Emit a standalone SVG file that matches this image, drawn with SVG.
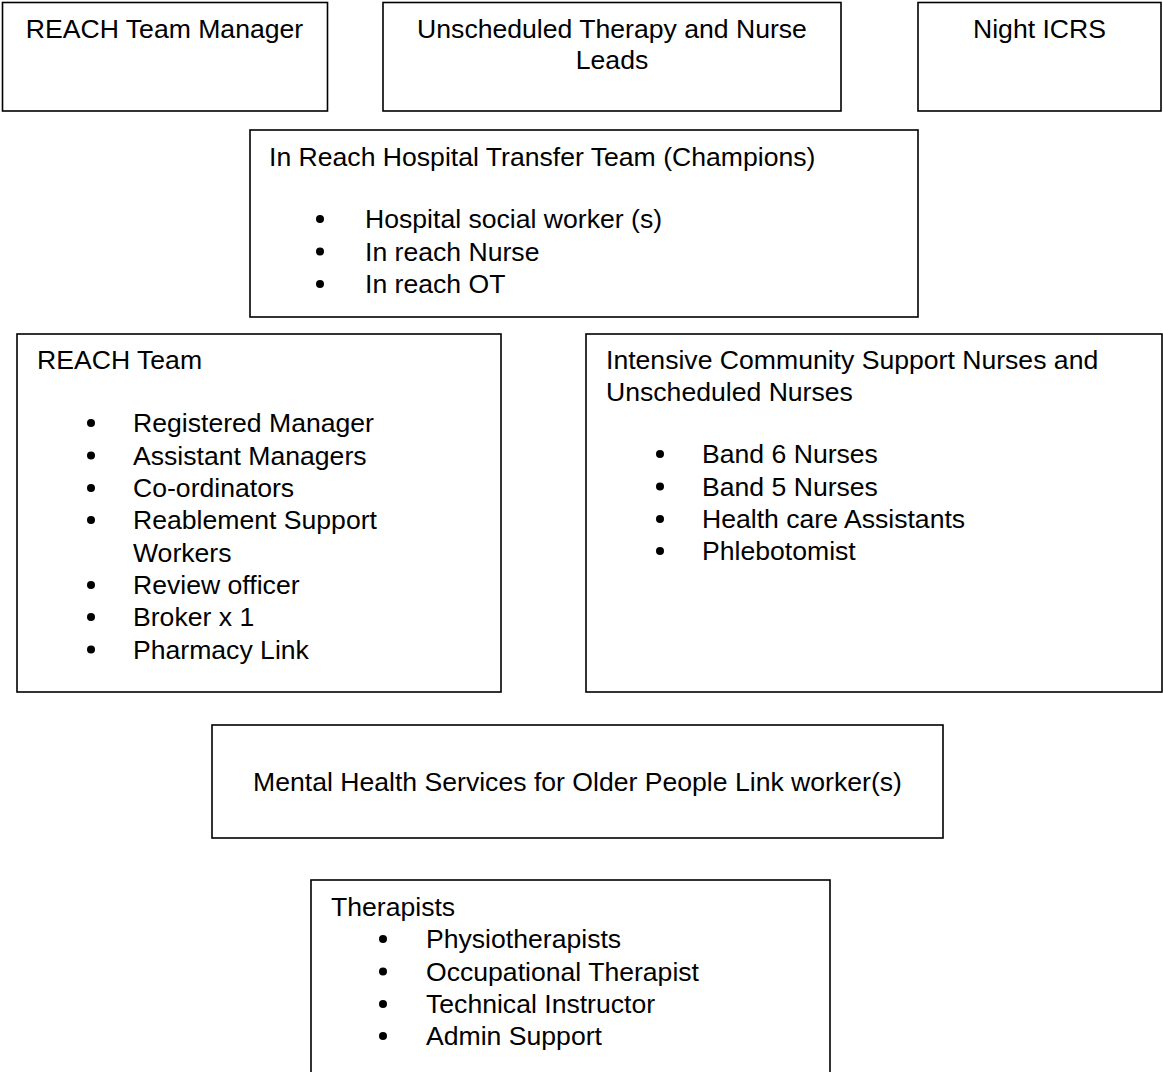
<svg xmlns="http://www.w3.org/2000/svg" width="1163" height="1072" viewBox="0 0 1163 1072">
<style>
.box{fill:#fff;stroke:#000;stroke-width:1.6}
.t{font-family:"Liberation Sans",Arial,sans-serif;font-size:26.6px;fill:#000}
.c{text-anchor:middle}
.b{fill:#000}
</style>
<rect width="1163" height="1072" fill="#fff"/>
<g id="reach-team-manager">
<rect class="box" x="2.5" y="2.5" width="325" height="108.5"/>
<text class="t c" x="164.5" y="37.5">REACH Team Manager</text>
</g>
<g id="unscheduled-leads">
<rect class="box" x="383" y="2.5" width="458" height="108.5"/>
<text class="t c" x="612" y="37.5">Unscheduled Therapy and Nurse</text>
<text class="t c" x="612" y="68.5">Leads</text>
</g>
<g id="night-icrs">
<rect class="box" x="918" y="2.5" width="243" height="108.5"/>
<text class="t c" x="1039.5" y="37.5">Night ICRS</text>
</g>
<g id="in-reach">
<rect class="box" x="250" y="130" width="668" height="187"/>
<text class="t" x="269" y="166">In Reach Hospital Transfer Team (Champions)</text>
<circle class="b" cx="320" cy="219" r="4"/><text class="t" x="365" y="228">Hospital social worker (s)</text>
<circle class="b" cx="320" cy="251.5" r="4"/><text class="t" x="365" y="260.5">In reach Nurse</text>
<circle class="b" cx="320" cy="284" r="4"/><text class="t" x="365" y="293">In reach OT</text>
</g>
<g id="reach-team">
<rect class="box" x="17" y="334" width="484" height="358"/>
<text class="t" x="37" y="369">REACH Team</text>
<circle class="b" cx="91" cy="423" r="4"/><text class="t" x="133" y="432">Registered Manager</text>
<circle class="b" cx="91" cy="455.5" r="4"/><text class="t" x="133" y="464.5">Assistant Managers</text>
<circle class="b" cx="91" cy="488" r="4"/><text class="t" x="133" y="497">Co-ordinators</text>
<circle class="b" cx="91" cy="520" r="4"/><text class="t" x="133" y="529">Reablement Support</text>
<text class="t" x="133" y="561.5">Workers</text>
<circle class="b" cx="91" cy="585" r="4"/><text class="t" x="133" y="594">Review officer</text>
<circle class="b" cx="91" cy="617" r="4"/><text class="t" x="133" y="626">Broker x 1</text>
<circle class="b" cx="91" cy="649.5" r="4"/><text class="t" x="133" y="658.5">Pharmacy Link</text>
</g>
<g id="intensive-community">
<rect class="box" x="586" y="334" width="576" height="358"/>
<text class="t" x="606" y="369">Intensive Community Support Nurses and</text>
<text class="t" x="606" y="401">Unscheduled Nurses</text>
<circle class="b" cx="660" cy="454" r="4"/><text class="t" x="702" y="463">Band 6 Nurses</text>
<circle class="b" cx="660" cy="486.5" r="4"/><text class="t" x="702" y="495.5">Band 5 Nurses</text>
<circle class="b" cx="660" cy="519" r="4"/><text class="t" x="702" y="528">Health care Assistants</text>
<circle class="b" cx="660" cy="551" r="4"/><text class="t" x="702" y="560">Phlebotomist</text>
</g>
<g id="mental-health">
<rect class="box" x="212" y="725" width="731" height="113"/>
<text class="t c" x="577.5" y="791">Mental Health Services for Older People Link worker(s)</text>
</g>
<g id="therapists">
<rect class="box" x="311" y="880" width="519" height="210"/>
<text class="t" x="331" y="916">Therapists</text>
<circle class="b" cx="383" cy="939" r="4"/><text class="t" x="426" y="948">Physiotherapists</text>
<circle class="b" cx="383" cy="971.5" r="4"/><text class="t" x="426" y="980.5">Occupational Therapist</text>
<circle class="b" cx="383" cy="1004" r="4"/><text class="t" x="426" y="1013">Technical Instructor</text>
<circle class="b" cx="383" cy="1036" r="4"/><text class="t" x="426" y="1045">Admin Support</text>
</g>
<g id="connectors"></g>
</svg>
